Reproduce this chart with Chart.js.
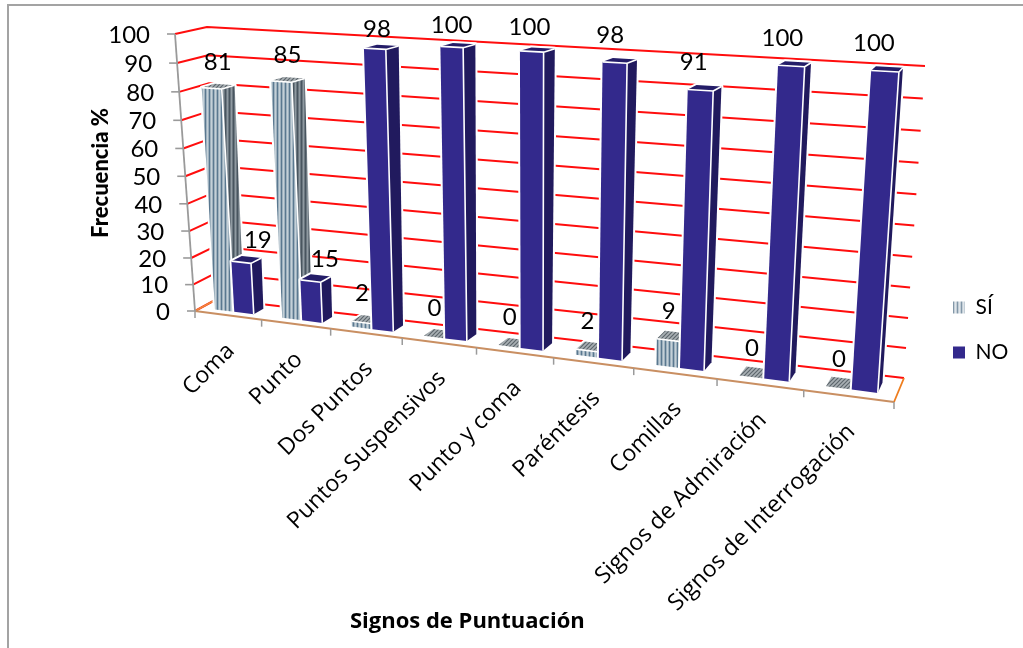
<!DOCTYPE html>
<html><head><meta charset="utf-8">
<script src="https://cdn.jsdelivr.net/npm/chart.js@4"></script>
<style>
html,body{margin:0;padding:0;background:#fff;overflow:hidden}
#wrap{position:relative;width:1023px;height:648px}
#frame{position:absolute;left:7px;top:4px;right:0;bottom:0;border-left:2px solid #a3a3a3;border-top:2px solid #a3a3a3}
canvas{position:absolute;left:0;top:0}
</style></head><body>
<div id="wrap"><canvas id="c" width="1023" height="648"></canvas><div id="frame"></div></div>
<script>
const categories = ["Coma","Punto","Dos Puntos","Puntos Suspensivos","Punto y coma","Paréntesis","Comillas","Signos de Admiración","Signos de Interrogación"];
const si = [81,85,2,0,0,2,9,0,0];
const no = [19,15,98,100,100,98,91,100,100];
const yTicks = [0,10,20,30,40,50,60,70,80,90,100];

// perspective frame of the 3D box (corners: bottom-left, bottom-right, top-right, top-left)
const backQuad  = [[217,299],[904,378],[925,66],[207,27]];
const frontQuad = [[195,311],[894,402],[917,76],[175,34]];
const depthFront = 0.28, depthBack = 0.71;

function homography(q){
  const [[x0,y0],[x1,y1],[x2,y2],[x3,y3]] = q;
  const dx1=x1-x2,dx2=x3-x2,sx=x0-x1+x2-x3,dy1=y1-y2,dy2=y3-y2,sy=y0-y1+y2-y3;
  const den=dx1*dy2-dx2*dy1;
  const g=(sx*dy2-dx2*sy)/den,h=(dx1*sy-sx*dy1)/den;
  const a=x1-x0+g*x1,b=x3-x0+h*x3,c=x0,d=y1-y0+g*y1,e=y3-y0+h*y3,f=y0;
  return (u,v)=>{const w=g*u+h*v+1;return [(a*u+b*v+c)/w,(d*u+e*v+f)/w];};
}
const Hb=homography(backQuad),Hf=homography(frontQuad);
function P(u,v,d){const a=Hf(u,v),b=Hb(u,v);return [a[0]+(b[0]-a[0])*d,a[1]+(b[1]-a[1])*d];}

const NUM_FONT='24px Lato', CAT_FONT='23px "Open Sans"';

function tile(w,h,draw){const c=document.createElement('canvas');c.width=w;c.height=h;draw(c.getContext('2d'));return c;}
const ref=document.getElementById('c').getContext('2d');
function stripes(bg,fg,lw){return ref.createPattern(tile(4,24,t=>{t.fillStyle=bg;t.fillRect(0,0,4,24);t.strokeStyle=fg;t.lineWidth=lw;
  t.beginPath();t.moveTo(1.5,0);t.lineTo(1.5,24);t.stroke();}),'repeat');}
const siFront=stripes('#c4d0d8','#5a7890',1.7);
const siSide=stripes('#8f9aa1','#48555f',2);
const siTop=ref.createPattern(tile(4,4,t=>{t.fillStyle='#a9b0b4';t.fillRect(0,0,4,4);t.strokeStyle='#5d666c';t.lineWidth=1.2;
  t.beginPath();t.moveTo(0,4);t.lineTo(4,0);t.moveTo(-1,1);t.lineTo(1,-1);t.moveTo(3,5);t.lineTo(5,3);t.stroke();}),'repeat');
const siLegend=stripes('#dfe5ea','#8297a8',1.6);

function poly(ctx,pts,fill){ctx.beginPath();pts.forEach((p,i)=>i?ctx.lineTo(p[0],p[1]):ctx.moveTo(p[0],p[1]));ctx.closePath();if(fill){ctx.fillStyle=fill;ctx.fill();}}
function line(ctx,a,b,color,w){ctx.strokeStyle=color;ctx.lineWidth=w;ctx.beginPath();ctx.moveTo(a[0],a[1]);ctx.lineTo(b[0],b[1]);ctx.stroke();}

const box3d={
  id:'box3d',
  afterLayout(chart){
    const l=chart.legend;
    const w=l.width,h=l.height;
    l.left=929;l.right=929+w;l.top=273;l.bottom=273+h;
  },
  beforeDatasetsDraw(chart){
    const ctx=chart.ctx,area=chart.chartArea,yS=chart.scales.y,xS=chart.scales.x;
    ctx.save();
    ctx.lineJoin='round';
    const vOf=px=>(area.bottom-px)/area.height;
    const uOf=px=>(px-area.left)/area.width;
    // gridlines: left wall + back wall
    yS.ticks.forEach(t=>{
      const v=vOf(yS.getPixelForValue(t.value));
      const a=P(0,v,0),b=P(0,v,1),c=P(1,v,1);
      ctx.strokeStyle='#ff0d0d';ctx.lineWidth=2;
      ctx.beginPath();ctx.moveTo(a[0],a[1]);ctx.lineTo(b[0],b[1]);ctx.lineTo(c[0],c[1]);ctx.stroke();
    });
    // floor edges
    const fl=P(0,0,0),fr=P(1,0,0),br=P(1,0,1),bl=P(0,0,1);
    line(ctx,bl,fl,'#ef8a3a',1.6);
    line(ctx,br,fr,'#ee7d1e',1.8);
    line(ctx,fl,fr,'#c98f62',2);
    // y axis line, ticks, labels
    line(ctx,P(0,0,0),P(0,1,0),'#9a9a9a',1.8);
    ctx.font=NUM_FONT;ctx.fillStyle='#000';ctx.textAlign='right';ctx.textBaseline='middle';
    yS.ticks.forEach(t=>{
      const p=P(0,vOf(yS.getPixelForValue(t.value)),0);
      line(ctx,[p[0]-8,p[1]],p,'#9a9a9a',1.6);
      ctx.fillStyle='#000';
      ctx.fillText(t.label,p[0]-25,p[1]+1);
    });
    // x ticks
    for(let i=0;i<=categories.length;i++){
      const p=P(i/categories.length,0,0);
      line(ctx,p,[p[0],p[1]+7],'#9a9a9a',1.5);
    }
    // bars
    const m0=chart.getDatasetMeta(0),m1=chart.getDatasetMeta(1);
    const labels=[];
    const drawBar=(el,value,palette,isSi)=>{
      const w=el.width,u0=uOf(el.x-w/2),u1=uOf(el.x+w/2),vt=vOf(el.y),vb=vOf(el.base);
      const A=P(u0,vb,depthFront),B=P(u1,vb,depthFront),C=P(u1,vt,depthFront),D=P(u0,vt,depthFront);
      const E=P(u1,vb,depthBack),F=P(u1,vt,depthBack),G=P(u0,vt,depthBack);
      if(value>0){
        poly(ctx,[A,B,E,F,G,D]);ctx.strokeStyle='#fff';ctx.lineWidth=4;ctx.stroke();
        poly(ctx,[A,B,C,D],palette.front);
        poly(ctx,[B,E,F,C],palette.side);
      }
      poly(ctx,[D,C,F,G],palette.top);
      if(value>0){
        ctx.strokeStyle='#fff';ctx.lineWidth=1.6;
        ctx.beginPath();ctx.moveTo(B[0],B[1]);ctx.lineTo(C[0],C[1]);ctx.lineTo(D[0],D[1]);ctx.moveTo(C[0],C[1]);ctx.lineTo(F[0],F[1]);ctx.stroke();
      }
      const cx=(D[0]+C[0])/2,cy=(D[1]+C[1])/2,uc=(u0+u1)/2;
      const dx=isSi?(value>50?6:0):(8-20*uc+(value<50?10:0));
      const dy=isSi?(value>50?-26:-29):(value<50?-22:Math.max(-28,-12-24*uc));
      labels.push([String(value),cx+dx,cy+dy]);
    };
    const pS={front:siFront,side:siSide,top:siTop},pN={front:'#33298c',side:'#211a5e',top:'#241d68'};
    categories.forEach((c,j)=>{
      drawBar(m0.data[j],chart.data.datasets[0].data[j],pS,true);
      drawBar(m1.data[j],chart.data.datasets[1].data[j],pN,false);
    });
    // data labels
    ctx.font=NUM_FONT;ctx.fillStyle='#000';ctx.textAlign='center';ctx.textBaseline='middle';
    labels.forEach(l=>ctx.fillText(l[0],l[1],l[2]));
    // category labels
    ctx.font=CAT_FONT;ctx.textAlign='right';ctx.textBaseline='middle';
    categories.forEach((c,j)=>{
      const u=uOf(xS.getPixelForTick(j));
      const p=P(u,0,0);
      ctx.save();ctx.translate(p[0]+3,p[1]+32);ctx.rotate(-Math.PI/4);
      ctx.fillStyle='#000';ctx.fillText(c,0,0);ctx.restore();
    });
    ctx.restore();
    return false;
  }
};

new Chart(document.getElementById('c'),{
  type:'bar',
  data:{labels:categories,datasets:[
    {label:'SÍ',data:si,backgroundColor:siLegend,borderWidth:0},
    {label:'NO',data:no,backgroundColor:'#33298c',borderWidth:0}
  ]},
  options:{
    responsive:false,animation:false,
    layout:{padding:{left:84,top:35,right:183,bottom:9}},
    datasets:{bar:{categoryPercentage:0.58,barPercentage:1}},
    plugins:{
      tooltip:{enabled:false},
      legend:{position:'right',align:'start',labels:{boxWidth:12,boxHeight:12,padding:24,color:'#000',font:{family:'Lato',size:21}}}
    },
    scales:{
      x:{
        grid:{display:false},border:{display:false},ticks:{display:false},
        title:{display:true,text:'Signos de Puntuación',color:'#000',font:{family:'Open Sans',size:22,weight:'bold'},padding:4},
        afterFit(s){s.height=328;}
      },
      y:{
        min:0,max:100,
        afterBuildTicks(s){s.ticks=yTicks.map(value=>({value}));},
        grid:{display:false},border:{display:false},ticks:{display:false},
        title:{display:true,text:'Frecuencia %',color:'#000',font:{family:'Lato',size:22,weight:'900'},padding:4},
        afterFit(s){s.width=100;}
      }
    }
  },
  plugins:[box3d]
});
</script>
</body></html>
